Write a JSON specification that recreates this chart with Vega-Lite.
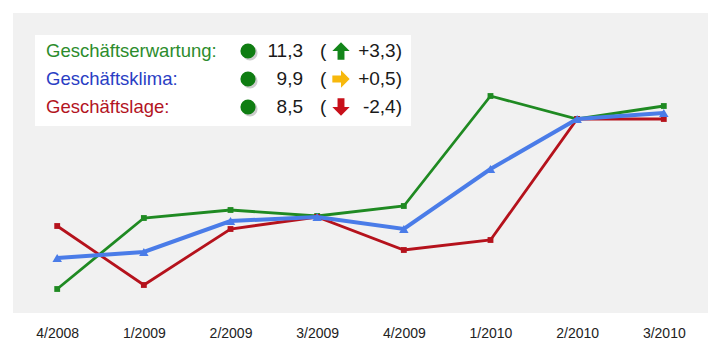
{
  "$schema": "https://vega.github.io/schema/vega-lite/v6.json",
  "autosize": "none",
  "width": 695,
  "height": 300,
  "padding": {"left": 13, "top": 13, "right": 12, "bottom": 43},
  "background": "white",
  "config": {"view": {"fill": "#f1f1f1", "stroke": null}, "font": "Liberation Sans"},
  "datasets": {
    "quarters": [
      {"quarter": "4/2008", "series": "Geschäftserwartung", "value": 2.4},
      {"quarter": "1/2009", "series": "Geschäftserwartung", "value": 9.5},
      {"quarter": "2/2009", "series": "Geschäftserwartung", "value": 10.3},
      {"quarter": "3/2009", "series": "Geschäftserwartung", "value": 9.7},
      {"quarter": "4/2009", "series": "Geschäftserwartung", "value": 10.7},
      {"quarter": "1/2010", "series": "Geschäftserwartung", "value": 21.7},
      {"quarter": "2/2010", "series": "Geschäftserwartung", "value": 19.4},
      {"quarter": "3/2010", "series": "Geschäftserwartung", "value": 20.7},
      {"quarter": "4/2008", "series": "Geschäftsklima", "value": 5.5},
      {"quarter": "1/2009", "series": "Geschäftsklima", "value": 6.1},
      {"quarter": "2/2009", "series": "Geschäftsklima", "value": 9.2},
      {"quarter": "3/2009", "series": "Geschäftsklima", "value": 9.6},
      {"quarter": "4/2009", "series": "Geschäftsklima", "value": 8.4},
      {"quarter": "1/2010", "series": "Geschäftsklima", "value": 14.4},
      {"quarter": "2/2010", "series": "Geschäftsklima", "value": 19.4},
      {"quarter": "3/2010", "series": "Geschäftsklima", "value": 20.0},
      {"quarter": "4/2008", "series": "Geschäftslage", "value": 8.7},
      {"quarter": "1/2009", "series": "Geschäftslage", "value": 2.8},
      {"quarter": "2/2009", "series": "Geschäftslage", "value": 8.4},
      {"quarter": "3/2009", "series": "Geschäftslage", "value": 9.6},
      {"quarter": "4/2009", "series": "Geschäftslage", "value": 6.3},
      {"quarter": "1/2010", "series": "Geschäftslage", "value": 7.3},
      {"quarter": "2/2010", "series": "Geschäftslage", "value": 19.4},
      {"quarter": "3/2010", "series": "Geschäftslage", "value": 19.4}
    ],
    "legend": [
      {"series": "Geschäftserwartung", "label": "Geschäftserwartung:", "value": "11,3", "change": "+3,3)", "trend": "up"},
      {"series": "Geschäftsklima", "label": "Geschäftsklima:", "value": "9,9", "change": "+0,5)", "trend": "flat"},
      {"series": "Geschäftslage", "label": "Geschäftslage:", "value": "8,5", "change": "-2,4)", "trend": "down"}
    ]
  },
  "layer": [
    {
      "data": {"name": "quarters"},
      "encoding": {
        "x": {
          "field": "quarter", "type": "ordinal", "sort": null,
          "scale": {"padding": 0.51},
          "axis": {"title": null, "domain": false, "ticks": false, "tickSize": 0, "grid": false, "labelPadding": 13, "labelFontSize": 14, "labelColor": "#222222", "labelAngle": 0}
        },
        "y": {"field": "value", "type": "quantitative", "scale": {"domain": [0, 30], "nice": false, "zero": false}, "axis": null},
        "color": {
          "field": "series", "type": "nominal", "legend": null,
          "scale": {"domain": ["Geschäftserwartung", "Geschäftsklima", "Geschäftslage"], "range": ["#1f8a22", "#4a7ce8", "#b5121c"]}
        }
      },
      "layer": [
        {
          "transform": [{"filter": "datum.series === 'Geschäftserwartung'"}],
          "mark": {"type": "line", "strokeWidth": 2.8, "point": {"shape": "square", "size": 34, "filled": true}}
        },
        {
          "transform": [{"filter": "datum.series === 'Geschäftslage'"}],
          "mark": {"type": "line", "strokeWidth": 2.8, "point": {"shape": "square", "size": 34, "filled": true}}
        },
        {
          "transform": [{"filter": "datum.series === 'Geschäftsklima'"}],
          "mark": {"type": "line", "strokeWidth": 4, "point": {"shape": "triangle-up", "size": 90, "filled": true}}
        }
      ]
    },
    {
      "data": {"name": "legend"},
      "encoding": {
        "y": {
          "field": "series", "type": "nominal", "sort": null, "axis": null,
          "scale": {"type": "point", "domain": ["Geschäftserwartung", "Geschäftsklima", "Geschäftslage"], "range": [38, 94], "padding": 0}
        }
      },
      "layer": [
        {
          "transform": [{"filter": "datum.series === 'Geschäftserwartung'"}],
          "mark": {"type": "rect", "fill": "white"},
          "encoding": {"x": {"value": 22}, "x2": {"value": 398}, "y": {"value": 22}, "y2": {"value": 113}}
        },
        {
          "mark": {"type": "text", "align": "left", "baseline": "middle", "fontSize": 18.5},
          "encoding": {
            "x": {"value": 33},
            "text": {"field": "label"},
            "color": {
              "field": "series", "type": "nominal", "legend": null,
              "scale": {"domain": ["Geschäftserwartung", "Geschäftsklima", "Geschäftslage"], "range": ["#2c8c2c", "#2a3ec4", "#b3141f"]}
            }
          }
        },
        {
          "mark": {"type": "point", "shape": "circle", "size": 230, "filled": true, "color": "#555555", "opacity": 0.3, "xOffset": 2, "yOffset": 2},
          "encoding": {"x": {"value": 235}}
        },
        {
          "mark": {"type": "point", "shape": "circle", "size": 230, "filled": true, "color": "#0f7d12", "opacity": 1},
          "encoding": {"x": {"value": 235}}
        },
        {
          "mark": {"type": "text", "align": "right", "baseline": "middle", "fontSize": 19, "color": "#1a1a1a"},
          "encoding": {"x": {"value": 290}, "text": {"field": "value"}}
        },
        {
          "mark": {"type": "text", "align": "left", "baseline": "middle", "fontSize": 19, "color": "#1a1a1a", "text": "("},
          "encoding": {"x": {"value": 307}}
        },
        {
          "mark": {"type": "point", "size": 300, "filled": true, "opacity": 1, "strokeWidth": 0},
          "encoding": {
            "x": {"value": 328},
            "shape": {
              "field": "trend", "type": "nominal", "legend": null,
              "scale": {"domain": ["up", "flat", "down"], "range": [
                "M0,-1L1,0L0.4,0L0.4,1L-0.4,1L-0.4,0L-1,0Z",
                "M1,0L0,-1L0,-0.4L-1,-0.4L-1,0.4L0,0.4L0,1Z",
                "M0,1L1,0L0.4,0L0.4,-1L-0.4,-1L-0.4,0L-1,0Z"
              ]}
            },
            "fill": {
              "field": "trend", "type": "nominal", "legend": null,
              "scale": {"domain": ["up", "flat", "down"], "range": ["#13861a", "#f7b80c", "#c8101a"]}
            }
          }
        },
        {
          "mark": {"type": "text", "align": "right", "baseline": "middle", "fontSize": 19, "color": "#1a1a1a"},
          "encoding": {"x": {"value": 389}, "text": {"field": "change"}}
        }
      ],
      "resolve": {"scale": {"color": "independent"}}
    }
  ],
  "resolve": {"scale": {"y": "independent", "color": "independent"}}
}
